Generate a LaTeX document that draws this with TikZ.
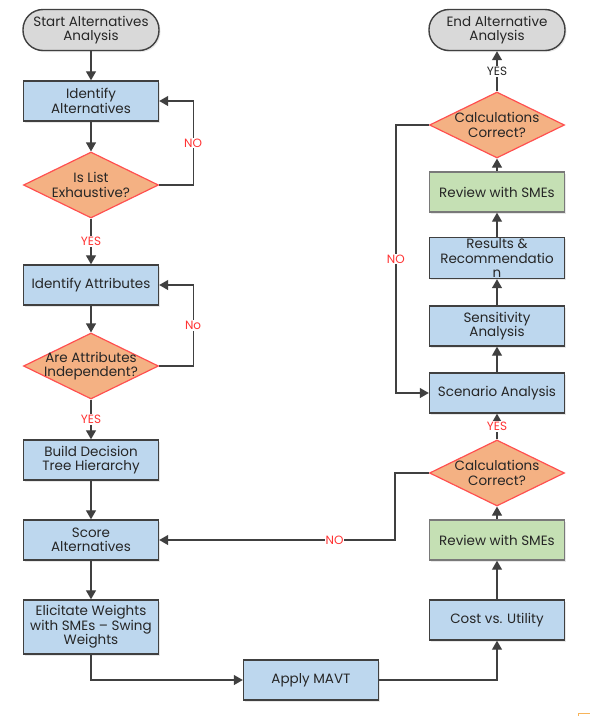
\documentclass[tikz,border=0pt]{standalone}
\usepackage{fontspec}
\setmainfont{Poppins}
\usetikzlibrary{arrows.meta,shapes.geometric,shadows}
\definecolor{boxblue}{RGB}{189,215,238}
\definecolor{boxgreen}{RGB}{197,224,180}
\definecolor{dia}{RGB}{244,177,131}
\definecolor{diaedge}{RGB}{255,80,80}
\definecolor{term}{RGB}{217,217,217}
\definecolor{edge}{RGB}{64,64,64}
\definecolor{txt}{RGB}{38,38,38}
\definecolor{lblred}{RGB}{255,51,51}
\definecolor{artifact}{RGB}{247,180,90}
\begin{document}
\begin{tikzpicture}[x=1pt,y=-1pt,
  base/.style={draw=edge,line width=1.4pt,text=txt,align=center,
    font=\fontsize{13.5}{14.5}\selectfont,inner sep=1pt,
    drop shadow={opacity=0.18,shadow xshift=1.5pt,shadow yshift=-1.5pt}},
  proc/.style={base,rectangle,fill=boxblue,minimum width=135pt,minimum height=40pt},
  review/.style={base,rectangle,fill=boxgreen,minimum width=135pt,minimum height=40pt,draw=edge!70},
  termnode/.style={base,rectangle,rounded corners=20pt,fill=term,minimum width=136pt,minimum height=41pt},
  decision/.style={diamond,draw=diaedge,fill=dia,line width=1.2pt,minimum width=135pt,minimum height=66pt,inner sep=0pt,
    label={[text=txt,align=center,font=\fontsize{13.5}{14.5}\selectfont]center:#1}},
  arr/.style={draw=edge,line width=1.2pt,-{Triangle[width=10pt,length=9pt]}},
  lbl/.style={fill=white,inner sep=1pt,text=lblred,font=\fontsize{12}{13}\selectfont},
  lblk/.style={fill=white,inner sep=1pt,text=txt,font=\fontsize{12}{13}\selectfont}]
\useasboundingbox (0,0) rectangle (590,716);
\fill[white] (0,0) rectangle (590,716);

% left column
\node[termnode] (start) at (91,30) {Start Alternatives\\Analysis};
\node[proc] (idalt) at (91,101) {Identify\\Alternatives};
\node[decision={Is List\\Exhaustive?}] (list) at (91,185) {};
\node[proc] (idattr) at (91,285) {Identify Attributes};
\node[decision={Are Attributes\\Independent?}] (indep) at (91,366) {};
\node[proc] (build) at (91,460) {Build Decision\\Tree Hierarchy};
\node[proc] (score) at (91,540) {Score\\Alternatives};
\node[proc,minimum height=54pt] (elicit) at (91,627) {Elicitate Weights\\with SMEs -- Swing\\Weights};
\node[proc] (apply) at (311,680) {Apply MAVT};

% right column
\node[termnode] (end) at (497,30) {End Alternative\\Analysis};
\node[decision={Calculations\\Correct?}] (calc1) at (497,125) {};
\node[review] (rev1) at (497,192) {Review with SMEs};
\node[proc] (results) at (497,258) {Results \&\\Recommendatio\\n};
\node[proc] (sens) at (497,326) {Sensitivity\\Analysis};
\node[proc] (scen) at (497,393) {Scenario Analysis};
\node[decision={Calculations\\Correct?}] (calc2) at (497,473) {};
\node[review] (rev2) at (497,540) {Review with SMEs};
\node[proc] (cost) at (497,620) {Cost vs. Utility};

% connectors left
\draw[arr] (start) -- (idalt);
\draw[arr] (idalt) -- (list);
\draw[arr] (list.east) -- ++(34,0) |- node[lbl,pos=0.25]{NO} (idalt.east);
\draw[arr] (list) -- node[lbl]{YES} (idattr);
\draw[arr] (idattr) -- (indep);
\draw[arr] (indep.east) -- ++(34,0) |- node[lbl,pos=0.25]{No} (idattr.east);
\draw[arr] (indep) -- node[lbl]{YES} (build);
\draw[arr] (build) -- (score);
\draw[arr] (score) -- (elicit);
\draw[arr] (elicit.south) |- (apply.west);
\draw[arr] (apply.east) -| (cost.south);

% connectors right
\draw[arr] (cost) -- (rev2);
\draw[arr] (rev2) -- (calc2);
\draw[arr] (calc2) -- node[lbl]{YES} (scen);
\draw[arr] (calc2.west) -- ++(-34,0) |- node[lbl,pos=0.628]{NO} (score.east);
\draw[arr] (scen) -- (sens);
\draw[arr] (sens) -- (results);
\draw[arr] (results) -- (rev1);
\draw[arr] (rev1) -- (calc1);
\draw[arr] (calc1) -- node[lblk]{YES} (end);
\draw[arr] (calc1.west) -- ++(-33,0) |- node[lbl,pos=0.25]{NO} (scen.west);

% small artifact in the corner
\draw[artifact,line width=1pt] (578,716) -- (578,713) -- (590,713);
\end{tikzpicture}
\end{document}
